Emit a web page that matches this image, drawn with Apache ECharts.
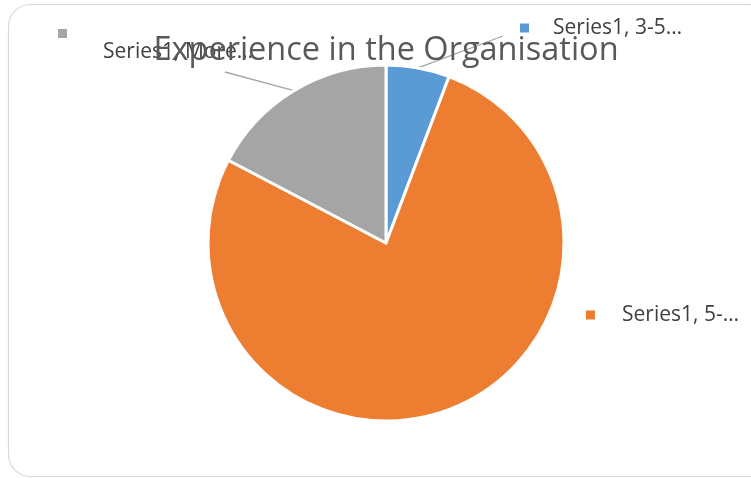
<!DOCTYPE html>
<html>
<head>
<meta charset="utf-8">
<script src="https://cdn.jsdelivr.net/npm/echarts@6/dist/echarts.min.js"></script>
<style>
  html, body { margin: 0; padding: 0; background: #ffffff; }
  #chart { width: 751px; height: 478px; }
</style>
</head>
<body>
<div id="chart"></div>
<script>
// Years of experience in the organisation (counts per band)
const seriesName = 'Series1';
const categories = ['3-5…', '5-…', 'More…'];
const counts = [3, 40, 9];
const colors = ['#5B9BD5', '#ED7D31', '#A5A5A5'];
const titleText = 'Experience in the Organisation';

const FONT = '"Open Sans", "Noto Sans", sans-serif';

// Where each data label sits, and where its leader line ends
const labelPlacement = {
  '3-5…':  { x: 520, y: 28, gap: 24, lineEnd: [503, 36], twoLine: false },
  '5-…':   { x: 586, y: 315, gap: 27, lineEnd: null, twoLine: false },
  'More…': { x: 58, y: 46, gap: 45, lineEnd: [225, 72], twoLine: true }
};

const chart = echarts.init(document.getElementById('chart'), null, { renderer: 'canvas' });

const data = categories.map((name, i) => {
  const place = labelPlacement[name];
  const text = seriesName + ', ' + name;
  return {
    name: name,
    value: counts[i],
    itemStyle: { color: colors[i] },
    label: {
      formatter: place.twoLine ? '{k|}\n{t2|' + text + '}' : '{k|}{t|' + text + '}',
      rich: {
        k: { width: 9, height: 9, backgroundColor: colors[i] },
        t: { fontSize: 21, fontFamily: FONT, color: '#404040', padding: [0, 0, 0, place.gap] },
        t2: { fontSize: 21, fontFamily: FONT, color: '#404040', padding: [4, 0, 0, place.gap] }
      }
    },
    labelLine: { show: place.lineEnd !== null }
  };
});

chart.setOption({
  backgroundColor: '#ffffff',
  animation: false,
  title: {
    text: titleText,
    left: 381,
    textAlign: 'center',
    top: 29,
    z: 10,
    textStyle: { fontFamily: FONT, fontSize: 32.5, fontWeight: 'normal', color: '#595959' }
  },
  graphic: [{
    type: 'rect',
    z: -1,
    silent: true,
    shape: { x: 8.5, y: 4.5, width: 760, height: 472, r: 22 },
    style: { fill: 'none', stroke: '#d9d9d9', lineWidth: 1.2 }
  }],
  series: [{
    type: 'pie',
    center: [386, 243],
    radius: 178,
    startAngle: 90,
    clockwise: true,
    avoidLabelOverlap: false,
    itemStyle: { borderColor: '#ffffff', borderWidth: 3 },
    label: { show: true, position: 'outside', align: 'left' },
    labelLine: { show: true, length: 10, length2: 10, lineStyle: { color: '#a6a6a6', width: 1.3 } },
    labelLayout: function (params) {
      const name = categories[params.dataIndex];
      const place = labelPlacement[name];
      const out = { x: place.x, y: place.y, align: 'left', verticalAlign: 'middle', moveOverlap: false };
      if (place.lineEnd && params.labelLinePoints) {
        const start = params.labelLinePoints[0];
        out.labelLinePoints = [start, start, place.lineEnd];
      }
      return out;
    },
    emphasis: { disabled: true },
    data: data
  }]
});
</script>
</body>
</html>
